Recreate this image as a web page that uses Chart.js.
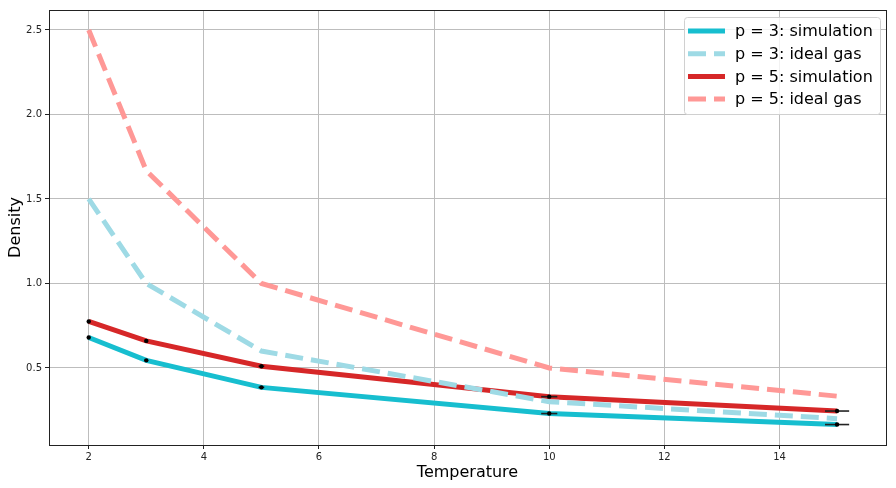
<!DOCTYPE html>
<html lang="en">
<head>
<meta charset="UTF-8">
<title>Density vs Temperature</title>
<script src="https://cdn.jsdelivr.net/npm/chart.js@4.4.9/dist/chart.umd.js"></script>
<style>
  html, body { margin: 0; padding: 0; background: #fff; }
  .chart-container { width: 896px; height: 488px; }
</style>
</head>
<body>
<div class="chart-container"><canvas id="chart"></canvas></div>
<script>
// data
const temperatures = [2, 3, 5, 10, 15];
const simP3 = [0.68, 0.545, 0.385, 0.23, 0.165];
const idealP3 = [1.5, 1.0, 0.6, 0.3, 0.2];
const simP5 = [0.775, 0.66, 0.51, 0.33, 0.245];
const idealP5 = [2.5, 1.667, 1.0, 0.5, 0.333];
const tempErr = [0.02, 0.03, 0.05, 0.14, 0.21]; // horizontal error bars on simulation points

const xTicks = [2, 4, 6, 8, 10, 12, 14];
const yTicks = [0.5, 1.0, 1.5, 2.0, 2.5];

const pts = ys => temperatures.map((t, i) => ({ x: t, y: ys[i] }));

// black error bars + markers on the simulation curves
const errorBars = {
  id: 'errorBars',
  afterDatasetsDraw(chart) {
    const { ctx, scales: { x, y } } = chart;
    ctx.save();
    [simP3, simP5].forEach(series => {
      series.forEach((v, i) => {
        const t = temperatures[i];
        const py = y.getPixelForValue(v);
        ctx.strokeStyle = '#222';
        ctx.lineWidth = 1.6;
        ctx.beginPath();
        ctx.moveTo(x.getPixelForValue(t - tempErr[i]), py);
        ctx.lineTo(x.getPixelForValue(t + tempErr[i]), py);
        ctx.stroke();
        ctx.fillStyle = '#000';
        ctx.beginPath();
        ctx.arc(x.getPixelForValue(t), py, 2.2, 0, Math.PI * 2);
        ctx.fill();
      });
    });
    ctx.restore();
  }
};

// full frame + legend drawn inside the plot, top right
const insideLegend = {
  id: 'insideLegend',
  afterDraw(chart) {
    const { ctx, chartArea } = chart;
    ctx.save();
    ctx.strokeStyle = '#222';
    ctx.lineWidth = 1;
    ctx.strokeRect(Math.round(chartArea.left) + 0.5, Math.round(chartArea.top) + 0.5,
      Math.round(chartArea.right - chartArea.left), Math.round(chartArea.bottom - chartArea.top));

    const sets = chart.data.datasets;
    const boxW = 196, boxH = 97;
    const bx = chartArea.right - 6 - boxW, by = chartArea.top + 7;
    ctx.fillStyle = 'rgba(255,255,255,0.8)';
    ctx.strokeStyle = '#d0d0d0';
    ctx.beginPath();
    ctx.roundRect(bx + 0.5, by + 0.5, boxW, boxH, 3);
    ctx.fill();
    ctx.stroke();
    ctx.font = '16px "DejaVu Sans"';
    ctx.textBaseline = 'middle';
    sets.forEach((ds, i) => {
      const ly = by + 14 + i * 22.7;
      ctx.strokeStyle = ds.borderColor;
      ctx.lineWidth = 5;
      ctx.setLineDash(ds.borderDash || []);
      ctx.beginPath();
      ctx.moveTo(bx + 4, ly);
      ctx.lineTo(bx + 41, ly);
      ctx.stroke();
      ctx.setLineDash([]);
      ctx.fillStyle = '#000';
      ctx.fillText(ds.label, bx + 51, ly + 1);
    });
    ctx.restore();
  }
};

new Chart(document.getElementById('chart'), {
  type: 'line',
  data: {
    datasets: [
      { label: 'p = 3: simulation', data: pts(simP3), borderColor: '#17becf', borderWidth: 5 },
      { label: 'p = 3: ideal gas', data: pts(idealP3), borderColor: '#9edae5', borderWidth: 5, borderDash: [18, 8] },
      { label: 'p = 5: simulation', data: pts(simP5), borderColor: '#d62728', borderWidth: 5 },
      { label: 'p = 5: ideal gas', data: pts(idealP5), borderColor: '#ff9896', borderWidth: 5, borderDash: [18, 8] }
    ]
  },
  options: {
    responsive: true,
    maintainAspectRatio: false,
    animation: false,
    elements: { point: { radius: 0 }, line: { tension: 0, borderCapStyle: 'butt' } },
    layout: { padding: { top: 10, right: 10, left: 0, bottom: 0 } },
    plugins: { legend: { display: false }, tooltip: { enabled: false } },
    scales: {
      x: {
        type: 'linear',
        min: 1.31,
        max: 15.85,
        afterBuildTicks: s => { s.ticks = xTicks.map(v => ({ value: v })); },
        afterFit: s => { s.height = 43; },
        grid: { color: '#bdbdbd', lineWidth: 1, tickLength: 4, tickColor: '#222' },
        border: { color: '#222', width: 1 },
        ticks: { color: '#222', font: { family: 'DejaVu Sans', size: 10 }, padding: 2, maxRotation: 0, callback: v => String(v) },
        title: { display: true, text: 'Temperature', color: '#000', font: { family: 'DejaVu Sans', size: 16 }, padding: { top: 2, bottom: 6 } }
      },
      y: {
        type: 'linear',
        min: 0.044,
        max: 2.618,
        afterBuildTicks: s => { s.ticks = yTicks.map(v => ({ value: v })); },
        afterFit: s => { s.width = 49; },
        grid: { color: '#bdbdbd', lineWidth: 1, tickLength: 4, tickColor: '#222' },
        border: { color: '#222', width: 1 },
        ticks: { color: '#222', font: { family: 'DejaVu Sans', size: 10 }, padding: 3, callback: v => v.toFixed(1) },
        title: { display: true, text: 'Density', color: '#000', font: { family: 'DejaVu Sans', size: 16 }, padding: { top: 6, bottom: 4 } }
      }
    }
  },
  plugins: [errorBars, insideLegend]
});
</script>
</body>
</html>
